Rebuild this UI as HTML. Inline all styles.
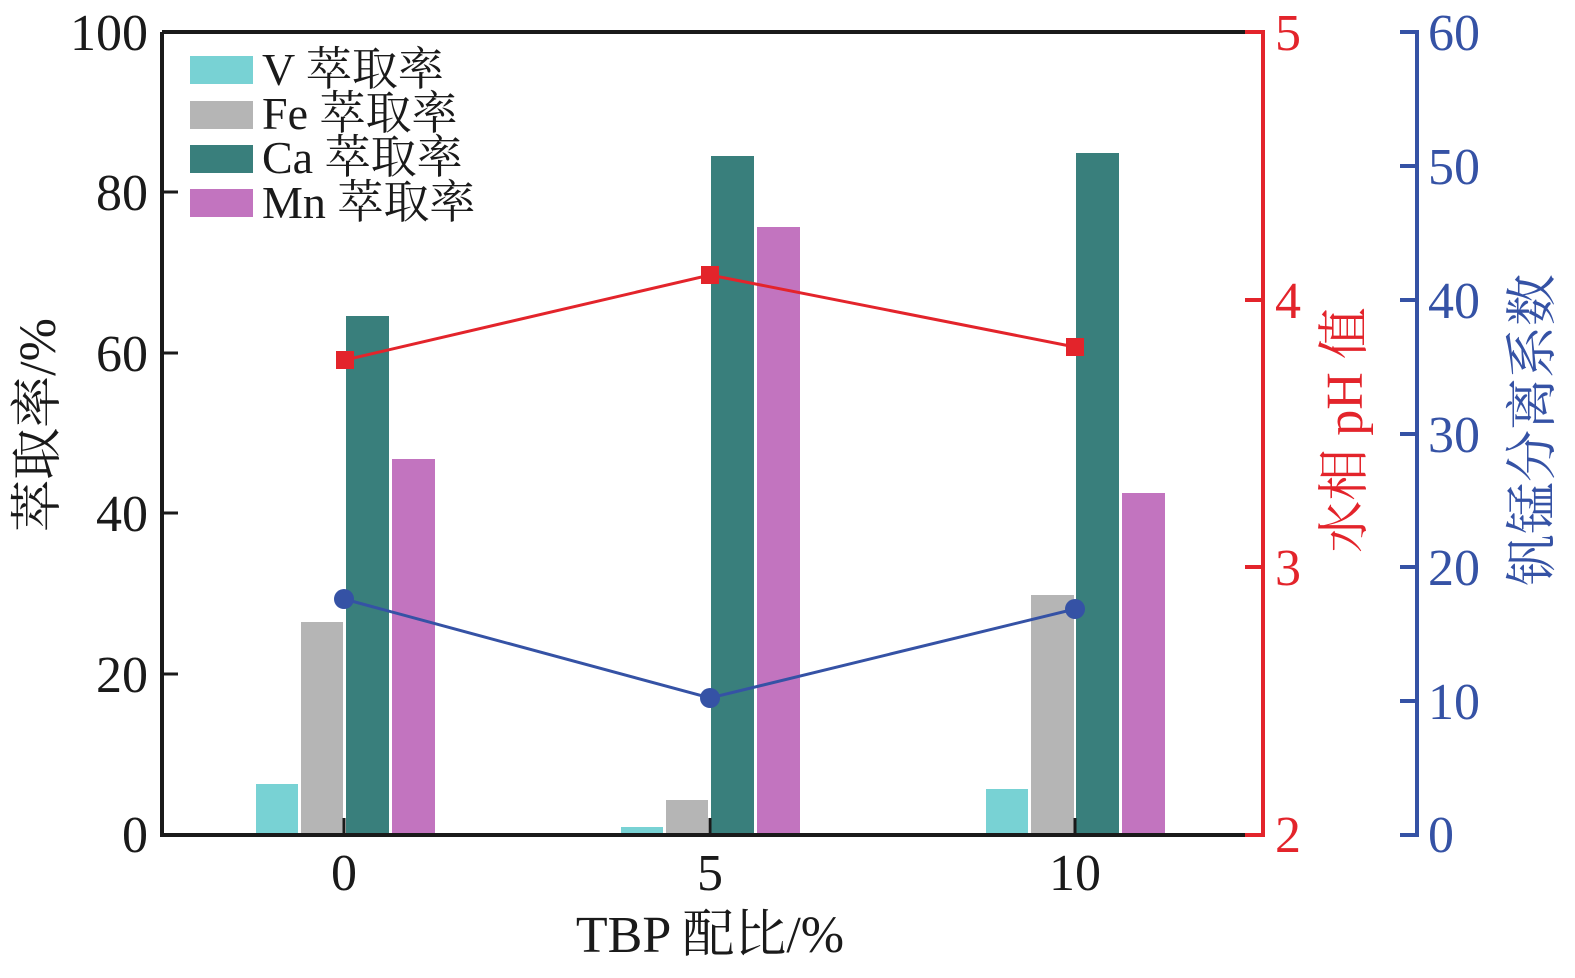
<!DOCTYPE html><html><head><meta charset="utf-8"><style>body{margin:0;background:#fff}</style></head><body>
<svg width="1575" height="973" xmlns="http://www.w3.org/2000/svg" font-family="Liberation Serif, Noto Serif CJK SC, serif">
<g>
<rect x="256" y="784" width="42" height="51" fill="#78d2d4"/>
<rect x="301" y="622" width="42" height="213" fill="#b5b5b5"/>
<rect x="346" y="316" width="43" height="519" fill="#397f7c"/>
<rect x="392" y="459" width="43" height="376" fill="#c274bf"/>
<rect x="621" y="827" width="42" height="8" fill="#78d2d4"/>
<rect x="666" y="800" width="42" height="35" fill="#b5b5b5"/>
<rect x="711" y="156" width="43" height="679" fill="#397f7c"/>
<rect x="757" y="227" width="43" height="608" fill="#c274bf"/>
<rect x="986" y="789" width="42" height="46" fill="#78d2d4"/>
<rect x="1031" y="595" width="43" height="240" fill="#b5b5b5"/>
<rect x="1076" y="153" width="43" height="682" fill="#397f7c"/>
<rect x="1122" y="493" width="43" height="342" fill="#c274bf"/>
</g>
<path d="M162 32 V835 H1245 M162 32 H1245" stroke="#1a1a1a" stroke-width="4" fill="none"/>
<g stroke="#1a1a1a" stroke-width="3">
<line x1="162" y1="192" x2="178" y2="192"/><line x1="162" y1="353" x2="178" y2="353"/>
<line x1="162" y1="513" x2="178" y2="513"/><line x1="162" y1="674" x2="178" y2="674"/>
<line x1="344" y1="835" x2="344" y2="818"/><line x1="710" y1="835" x2="710" y2="818"/><line x1="1075" y1="835" x2="1075" y2="818"/>
</g>
<path d="M1245 32 H1263 V835 H1245 M1245 300 H1263 M1245 567 H1263" stroke="#e3242b" stroke-width="4" fill="none"/>
<path d="M1400 32 H1417 V835 H1400 M1400 166 H1417 M1400 300 H1417 M1400 434 H1417 M1400 567 H1417 M1400 701 H1417" stroke="#3552a5" stroke-width="4" fill="none"/>
<polyline points="345,360 710,275 1075,347" stroke="#e3242b" stroke-width="3" fill="none"/>
<g fill="#e3242b"><rect x="336" y="351" width="18" height="18"/><rect x="701" y="266" width="18" height="18"/><rect x="1066" y="338" width="18" height="18"/></g>
<polyline points="344,599 710,698 1075,609" stroke="#3552a5" stroke-width="3" fill="none"/>
<g fill="#3552a5"><circle cx="344" cy="599" r="10"/><circle cx="710" cy="698" r="10"/><circle cx="1075" cy="609" r="10"/></g>
<g font-size="52" fill="#1a1a1a" text-anchor="end">
<text x="148" y="50">100</text><text x="148" y="210">80</text><text x="148" y="371">60</text>
<text x="148" y="531">40</text><text x="148" y="692">20</text><text x="148" y="852">0</text>
</g>
<g font-size="52" fill="#1a1a1a" text-anchor="middle">
<text x="344" y="890">0</text><text x="710" y="890">5</text><text x="1075" y="890">10</text>
</g>
<g font-size="52" fill="#e3242b"><text x="1275" y="50">5</text><text x="1275" y="318">4</text><text x="1275" y="585">3</text><text x="1275" y="852">2</text></g>
<g font-size="52" fill="#3552a5"><text x="1428" y="50">60</text><text x="1428" y="184">50</text><text x="1428" y="318">40</text><text x="1428" y="452">30</text><text x="1428" y="585">20</text><text x="1428" y="719">10</text><text x="1428" y="852">0</text></g>
<text x="710" y="952" font-size="52" text-anchor="middle" fill="#1a1a1a">TBP 配比/%</text>
<text transform="translate(55,425) rotate(-90)" font-size="52" text-anchor="middle" fill="#1a1a1a">萃取率/%</text>
<text transform="translate(1362,430) rotate(-90)" font-size="52" text-anchor="middle" fill="#e3242b">水相 pH 值</text>
<text transform="translate(1550,430) rotate(-90)" font-size="52" text-anchor="middle" fill="#3552a5">钒锰分离系数</text>
<rect x="190" y="56" width="63" height="28" fill="#78d2d4"/>
<rect x="190" y="101" width="63" height="28" fill="#b5b5b5"/>
<rect x="190" y="145" width="63" height="28" fill="#397f7c"/>
<rect x="190" y="189" width="63" height="28" fill="#c274bf"/>
<g font-size="46" fill="#1a1a1a">
<text x="262" y="85">V 萃取率</text><text x="262" y="129">Fe 萃取率</text><text x="262" y="173">Ca 萃取率</text><text x="262" y="218">Mn 萃取率</text>
</g>
</svg>
</body></html>
